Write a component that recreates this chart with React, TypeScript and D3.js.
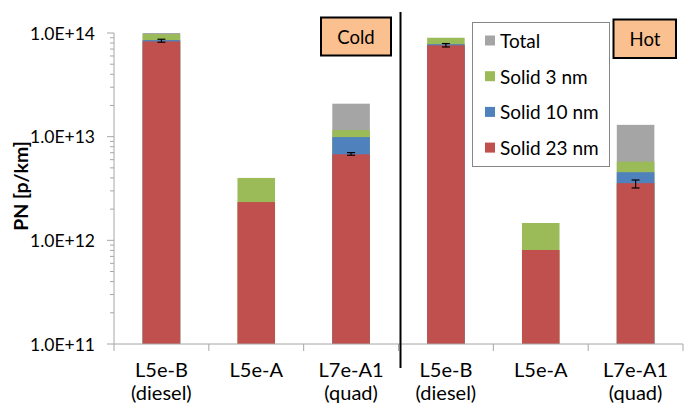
import React from "react";
import * as d3 from "d3";

const categoryLine1 = ["L5e-B", "L5e-A", "L7e-A1", "L5e-B", "L5e-A", "L7e-A1"];
const categoryLine2 = ["(diesel)", "", "(quad)", "(diesel)", "", "(quad)"];

const totalPN: (number | null)[] = [1.0e14, null, 2.08e13, null, null, 1.3e13];
const solid3: (number | null)[] = [9.75e13, 4.0e12, 1.16e13, 9.0e13, 1.47e12, 5.74e12];
const solid10: (number | null)[] = [8.55e13, null, 9.9e12, 7.8e13, null, 4.54e12];
const solid23: (number | null)[] = [8.3e13, 2.34e12, 6.76e12, 7.6e13, 8.07e11, 3.56e12];

const errLow: (number | null)[] = [8.15e13, null, 6.62e12, 7.33e13, null, 3.2e12];
const errHigh: (number | null)[] = [8.71e13, null, 7.02e12, 7.91e13, null, 3.82e12];

const yTicks = [1e11, 1e12, 1e13, 1e14];
const yTickLabels = ["1.0E+11", "1.0E+12", "1.0E+13", "1.0E+14"];

const seriesNames = ["Total", "Solid 3 nm", "Solid 10 nm", "Solid 23 nm"];
const seriesColors = ["#A5A5A5", "#9BBB59", "#4F81BD", "#C0504D"];
const seriesData = [totalPN, solid3, solid10, solid23];

const W = 687;
const H = 404;
const FONT = "Lato, 'Open Sans', sans-serif";

export default function App() {
  const x = d3
    .scaleBand<number>()
    .domain(d3.range(categoryLine1.length))
    .range([114, 683])
    .paddingInner(0.604)
    .paddingOuter(0.302);
  const y = d3.scaleLog().domain([1e11, 1e14]).range([344, 33]);
  const step = x.step();
  const axisColor = "#A6A6A6";

  const minorTicks: number[] = [];
  for (let e = 11; e < 14; e++) {
    for (let m = 2; m <= 9; m++) minorTicks.push(m * Math.pow(10, e));
  }

  return (
    <svg
      width={W}
      height={H}
      style={{ position: "fixed", left: 0, top: 0, background: "#fff" }}
      fontFamily={FONT}
    >
      <rect x={0} y={0} width={W} height={H} fill="#fff" />

      {/* bars: series drawn back to front */}
      {seriesData.map((s, si) =>
        s.map((v, i) =>
          v == null ? null : (
            <rect
              key={`b${si}-${i}`}
              x={x(i)!}
              y={y(v)}
              width={x.bandwidth()}
              height={y(1e11) - y(v)}
              fill={seriesColors[si]}
            />
          )
        )
      )}

      {/* error bars */}
      {errLow.map((lo, i) => {
        const hi = errHigh[i];
        if (lo == null || hi == null) return null;
        const cx = x(i)! + x.bandwidth() / 2;
        return (
          <g key={`e${i}`} stroke="#000" strokeWidth={1.2}>
            <line x1={cx} x2={cx} y1={y(lo)} y2={y(hi)} />
            <line x1={cx - 4} x2={cx + 4} y1={y(lo)} y2={y(lo)} />
            <line x1={cx - 4} x2={cx + 4} y1={y(hi)} y2={y(hi)} />
          </g>
        );
      })}

      {/* y axis */}
      <line x1={114} x2={114} y1={33} y2={344} stroke={axisColor} strokeWidth={1} />
      {yTicks.map((t, i) => (
        <g key={`yt${i}`}>
          <line x1={107} x2={114} y1={y(t)} y2={y(t)} stroke={axisColor} />
          <text
            x={95}
            y={y(t)}
            textAnchor="end"
            dominantBaseline="central"
            fontSize={17.5}
            fill="#000"
          >
            {yTickLabels[i]}
          </text>
        </g>
      ))}
      {minorTicks.map((t, i) => (
        <line key={`mt${i}`} x1={110} x2={114} y1={y(t)} y2={y(t)} stroke={axisColor} />
      ))}

      {/* x axis */}
      <line x1={114} x2={683} y1={344} y2={344} stroke={axisColor} />
      {d3.range(categoryLine1.length + 1).map((i) => (
        <line
          key={`xt${i}`}
          x1={114 + i * step}
          x2={114 + i * step}
          y1={344}
          y2={351}
          stroke={axisColor}
        />
      ))}
      {categoryLine1.map((c, i) => {
        const cx = x(i)! + x.bandwidth() / 2;
        return (
          <g key={`cl${i}`}>
            <text x={cx} y={377} textAnchor="middle" fontSize={20} fill="#000">
              {c}
            </text>
            <text x={cx} y={400} textAnchor="middle" fontSize={20} fill="#000">
              {categoryLine2[i]}
            </text>
          </g>
        );
      })}

      {/* y title */}
      <text
        transform={`translate(28,186) rotate(-90)`}
        textAnchor="middle"
        fontSize={19.5}
        fontWeight="bold"
        fill="#000"
      >
        PN [p/km]
      </text>

      {/* divider */}
      <line x1={400.5} x2={400.5} y1={12} y2={368} stroke="#000" strokeWidth={2} />

      {/* condition labels */}
      <rect x={321} y={17.5} width={70} height={38} fill="#FAC090" stroke="#000" strokeWidth={2} />
      <text x={356} y={37} textAnchor="middle" dominantBaseline="central" fontSize={18.5} fill="#000">
        Cold
      </text>
      <rect x={613.5} y={19.5} width={62.5} height={38.5} fill="#FAC090" stroke="#000" strokeWidth={2} />
      <text x={645} y={39} textAnchor="middle" dominantBaseline="central" fontSize={18.5} fill="#000">
        Hot
      </text>

      {/* legend */}
      <rect x={472.5} y={22.5} width={137} height={144} fill="#fff" stroke="#868686" strokeWidth={1} />
      {seriesNames.map((n, i) => {
        const cy = 40.5 + i * 35.7;
        return (
          <g key={`lg${i}`}>
            <rect x={485} y={cy - 5} width={10} height={10} fill={seriesColors[i]} />
            <text x={500} y={cy} dominantBaseline="central" fontSize={19} fill="#000">
              {n}
            </text>
          </g>
        );
      })}
    </svg>
  );
}
